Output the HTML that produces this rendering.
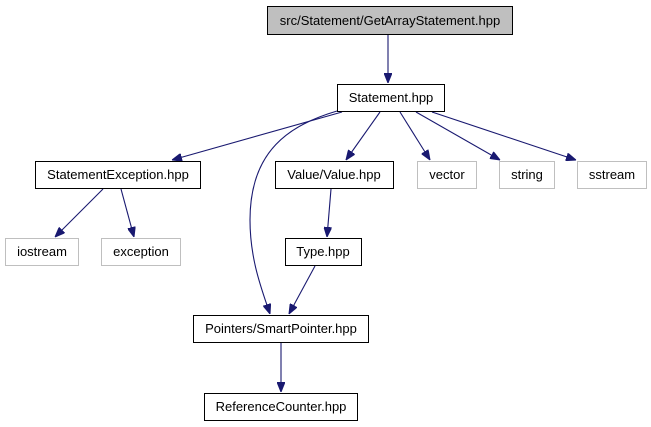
<!DOCTYPE html>
<html><head><style>
html,body{margin:0;padding:0;background:#fff;}
svg{display:block;}
text{font-family:"Liberation Sans",sans-serif;font-size:13px;fill:#000;}
</style></head><body>
<svg width="651" height="427" viewBox="0 0 651 427" xmlns="http://www.w3.org/2000/svg">
<defs>
<marker id="a" markerWidth="10" markerHeight="8" refX="10" refY="4" orient="auto" markerUnits="userSpaceOnUse">
<path d="M0,0 L10,4 L0,8 Z" fill="#191970" stroke="#191970"/>
</marker>
</defs>
<g fill="none" stroke="#191970" stroke-width="1.1">
<line x1="388" y1="34" x2="388" y2="83" marker-end="url(#a)"/>
<path d="M337,111 C290,125 250,150 250,220 C250,260 262,290 270,314" marker-end="url(#a)"/>
<line x1="342" y1="112" x2="172" y2="160" marker-end="url(#a)"/>
<line x1="380" y1="112" x2="346" y2="160" marker-end="url(#a)"/>
<line x1="400" y1="112" x2="430" y2="160" marker-end="url(#a)"/>
<line x1="416" y1="112" x2="500" y2="160" marker-end="url(#a)"/>
<line x1="432" y1="112" x2="576" y2="160" marker-end="url(#a)"/>
<line x1="103" y1="189" x2="55" y2="237" marker-end="url(#a)"/>
<line x1="121" y1="189" x2="134" y2="237" marker-end="url(#a)"/>
<line x1="331" y1="189" x2="327" y2="237" marker-end="url(#a)"/>
<line x1="315" y1="266" x2="289" y2="314" marker-end="url(#a)"/>
<line x1="281" y1="343" x2="281" y2="392" marker-end="url(#a)"/>
</g>
<g stroke-width="1">
<rect x="267.5" y="6.5" width="245" height="28" fill="#bfbfbf" stroke="#000"/>
<rect x="337.5" y="84.5" width="107" height="27" fill="#fff" stroke="#000"/>
<rect x="35.5" y="161.5" width="165" height="27" fill="#fff" stroke="#000"/>
<rect x="275.5" y="161.5" width="118" height="27" fill="#fff" stroke="#000"/>
<rect x="417.5" y="161.5" width="59" height="27" fill="#fff" stroke="#bfbfbf"/>
<rect x="499.5" y="161.5" width="55" height="27" fill="#fff" stroke="#bfbfbf"/>
<rect x="577.5" y="161.5" width="69" height="27" fill="#fff" stroke="#bfbfbf"/>
<rect x="5.5" y="238.5" width="73" height="27" fill="#fff" stroke="#bfbfbf"/>
<rect x="101.5" y="238.5" width="79" height="27" fill="#fff" stroke="#bfbfbf"/>
<rect x="285.5" y="238.5" width="76" height="27" fill="#fff" stroke="#000"/>
<rect x="193.5" y="315.5" width="175" height="27" fill="#fff" stroke="#000"/>
<rect x="204.5" y="393.5" width="153" height="27" fill="#fff" stroke="#000"/>
</g>
<g text-anchor="middle">
<text x="390" y="25">src/Statement/GetArrayStatement.hpp</text>
<text x="391" y="102">Statement.hpp</text>
<text x="118" y="179">StatementException.hpp</text>
<text x="334" y="179">Value/Value.hpp</text>
<text x="447" y="179">vector</text>
<text x="527" y="179">string</text>
<text x="612" y="179">sstream</text>
<text x="42" y="256">iostream</text>
<text x="141" y="256">exception</text>
<text x="323" y="256">Type.hpp</text>
<text x="281" y="333">Pointers/SmartPointer.hpp</text>
<text x="281" y="411">ReferenceCounter.hpp</text>
</g>
</svg>
</body></html>
